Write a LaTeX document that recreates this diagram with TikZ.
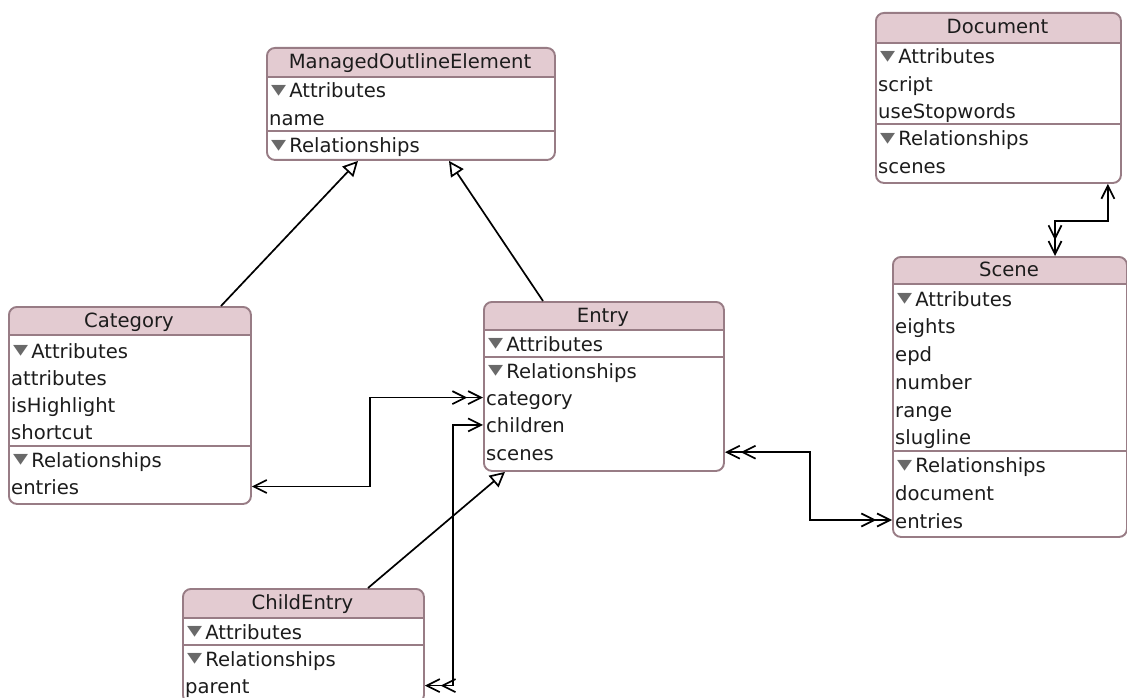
\documentclass[tikz,border=0pt]{standalone}
\usepackage{fontspec}
\setmainfont{DejaVu Sans}
\usetikzlibrary{arrows.meta,positioning,calc}

\definecolor{hdrpink}{RGB}{227,203,209}
\definecolor{boxline}{RGB}{152,124,133}
\definecolor{trigray}{RGB}{105,105,105}
\definecolor{textblack}{RGB}{28,28,28}

\tikzset{
  one/.tip={Straight Barb[length=13pt,width=13pt]},
  many/.tip={Straight Barb[length=13pt,width=13pt] Straight Barb[length=13pt,width=13pt]},
}

\begin{document}
\begin{tikzpicture}[%
    x=1pt, y=-1pt,
    font=\fontsize{19.6}{22}\selectfont,
    entity/.style={draw=boxline, line width=1.9pt, rounded corners=8pt,
      anchor=north west, inner sep=0pt,
      path picture={
        \fill[hdrpink, sharp corners] (path picture bounding box.north west)
          rectangle ([yshift=-#1pt]path picture bounding box.north east);
        \draw[boxline, line width=1.9pt, sharp corners]
          ([yshift=-#1pt]path picture bounding box.north west)
          -- ([yshift=-#1pt]path picture bounding box.north east);
      }},
    title/.style={inner sep=0pt, text height=18pt, text depth=4pt, text=textblack},
    row/.style={anchor=west, inner sep=0pt, text height=20pt, text depth=4pt, text=textblack},
    group/.style={row, execute at begin node={%
      \textcolor{trigray}{\raisebox{3.5pt}{\scalebox{1.0}[0.72]{▼}}}\hspace{3pt}}},
    sep/.style={draw=boxline, line width=1.9pt},
    conn/.style={draw=black, line width=1.7pt},
    inherit/.style={conn, -{Triangle[open, length=15pt, width=15pt, fill=white]}}
  ]
  \useasboundingbox (0,0) rectangle (1127,698);

  % ManagedOutlineElement
  \node[entity=29, minimum width=288pt, minimum height=112pt] (moe) at (266,47) {};
  \node[title] (moe-title) at (410,61.5) {ManagedOutlineElement};
  \node[group] (moe-attr) at (271,90) {Attributes};
  \node[row] (moe-name) at (269,117.3) {name};
  \draw[sep] (266,130.7) -- (554,130.7);
  \node[group] (moe-rel) at (271,144.6) {Relationships};

  % Document
  \node[entity=30, minimum width=245pt, minimum height=170pt] (doc) at (875,12) {};
  \node[title] (doc-title) at (997.5,27) {Document};
  \node[group] (doc-attr) at (880,56) {Attributes};
  \node[row] (doc-script) at (878,83.3) {script};
  \node[row] (doc-stop) at (878,110.6) {useStopwords};
  \draw[sep] (875,124.3) -- (1120,124.3);
  \node[group] (doc-rel) at (880,137.9) {Relationships};
  \node[row] (doc-scenes) at (878,165.2) {scenes};

  % Category
  \node[entity=28, minimum width=242pt, minimum height=197pt] (cat) at (8,306) {};
  \node[title] (cat-title) at (129,320) {Category};
  \node[group] (cat-attr) at (13,350) {Attributes};
  \node[row] (cat-attributes) at (11,377.3) {attributes};
  \node[row] (cat-high) at (11,404.6) {isHighlight};
  \node[row] (cat-short) at (11,431.9) {shortcut};
  \draw[sep] (8,445.6) -- (250,445.6);
  \node[group] (cat-rel) at (13,459.2) {Relationships};
  \node[row] (cat-entries) at (11,486.5) {entries};

  % Entry
  \node[entity=28, minimum width=240pt, minimum height=169pt] (entry) at (483,301) {};
  \node[title] (entry-title) at (603,315) {Entry};
  \node[group] (entry-attr) at (488,343) {Attributes};
  \draw[sep] (483,356.7) -- (723,356.7);
  \node[group] (entry-rel) at (488,370.3) {Relationships};
  \node[row] (entry-category) at (486,397.6) {category};
  \node[row] (entry-children) at (486,424.9) {children};
  \node[row] (entry-scenes) at (486,452.2) {scenes};

  % ChildEntry
  \node[entity=29, minimum width=241pt, minimum height=114pt] (child) at (182,588) {};
  \node[title] (child-title) at (302.5,602.5) {ChildEntry};
  \node[group] (child-attr) at (187,631) {Attributes};
  \draw[sep] (182,644.6) -- (423,644.6);
  \node[group] (child-rel) at (187,658.3) {Relationships};
  \node[row] (child-parent) at (185,685.6) {parent};

  % Scene
  \node[entity=27, minimum width=234pt, minimum height=280pt] (scene) at (892,256) {};
  \node[title] (scene-title) at (1009,269.5) {Scene};
  \node[group] (scene-attr) at (897,298) {Attributes};
  \node[row] (scene-eights) at (895,325.75) {eights};
  \node[row] (scene-epd) at (895,353.5) {epd};
  \node[row] (scene-number) at (895,381.25) {number};
  \node[row] (scene-range) at (895,409) {range};
  \node[row] (scene-slug) at (895,436.75) {slugline};
  \draw[sep] (892,450.6) -- (1126,450.6);
  \node[group] (scene-rel) at (897,464.5) {Relationships};
  \node[row] (scene-document) at (895,492.25) {document};
  \node[row] (scene-entries) at (895,520) {entries};

  % inheritance
  \draw[inherit] ([xshift=213pt]cat.north west) -- ([xshift=92pt]moe.south west);
  \draw[inherit] ([xshift=60pt]entry.north west) -- ([xshift=183pt]moe.south west);
  \draw[inherit] ([xshift=186pt]child.north west) -- ([xshift=22pt]entry.south west);

  % relationships
  \draw[conn, {one}-{many}] (cat.east |- cat-entries) -- ++(118,0) |- (entry.west |- entry-category);
  \draw[conn, {one}-{many}] (entry.west |- entry-children) -- ++(-30,0) |- (child.east |- child-parent);
  \draw[conn, {many}-{many}] (entry.east |- entry-scenes) -- ++(85,0) |- (scene.west |- scene-entries);
  \draw[conn, {one}-{many}] ([xshift=-14pt]doc.south east) -- ++(0,37) -| ([xshift=163pt]scene.north west);

\end{tikzpicture}
\end{document}
